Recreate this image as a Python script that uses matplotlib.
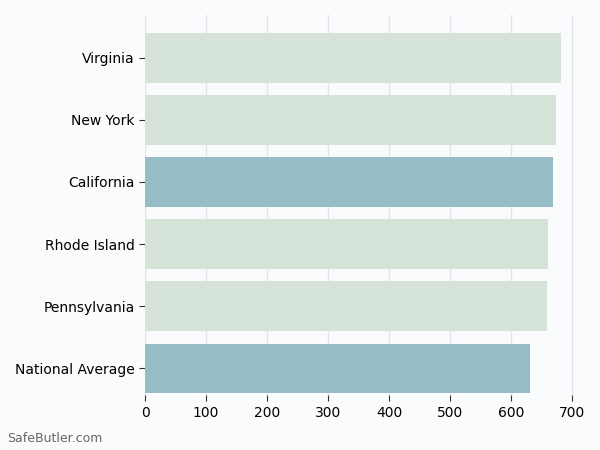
import matplotlib
matplotlib.use("Agg")
import matplotlib.pyplot as plt

states = ["National Average", "Pennsylvania", "Rhode Island", "California", "New York", "Virginia"]
values = [631, 659, 660, 668, 674, 681]
colors = ["#96bcc5", "#d4e2d8", "#d4e2d8", "#96bcc5", "#d4e2d8", "#d4e2d8"]
ticks = [0, 100, 200, 300, 400, 500, 600, 700]

bg = "#fafbfd"
fig = plt.figure(figsize=(6, 4.5), dpi=100, facecolor=bg)
ax = fig.add_axes([0.2417, 0.122, 0.7413, 0.845], facecolor=bg)

ax.barh(states, values, height=0.8, color=colors, zorder=2)
ax.set_xticks(ticks)
ax.set_xlim(0, 729)
ax.set_ylim(-0.43, 5.69)
ax.grid(axis="x", color="#e4e4e8", linewidth=1, zorder=0)
for s in ax.spines.values():
    s.set_visible(False)
ax.tick_params(axis="both", labelsize=10, color="#333333", length=4)

fig.text(0.012, 0.018, "SafeButler.com", fontsize=9, color="#666666")
fig.savefig("out.png", dpi=100, facecolor=bg)
